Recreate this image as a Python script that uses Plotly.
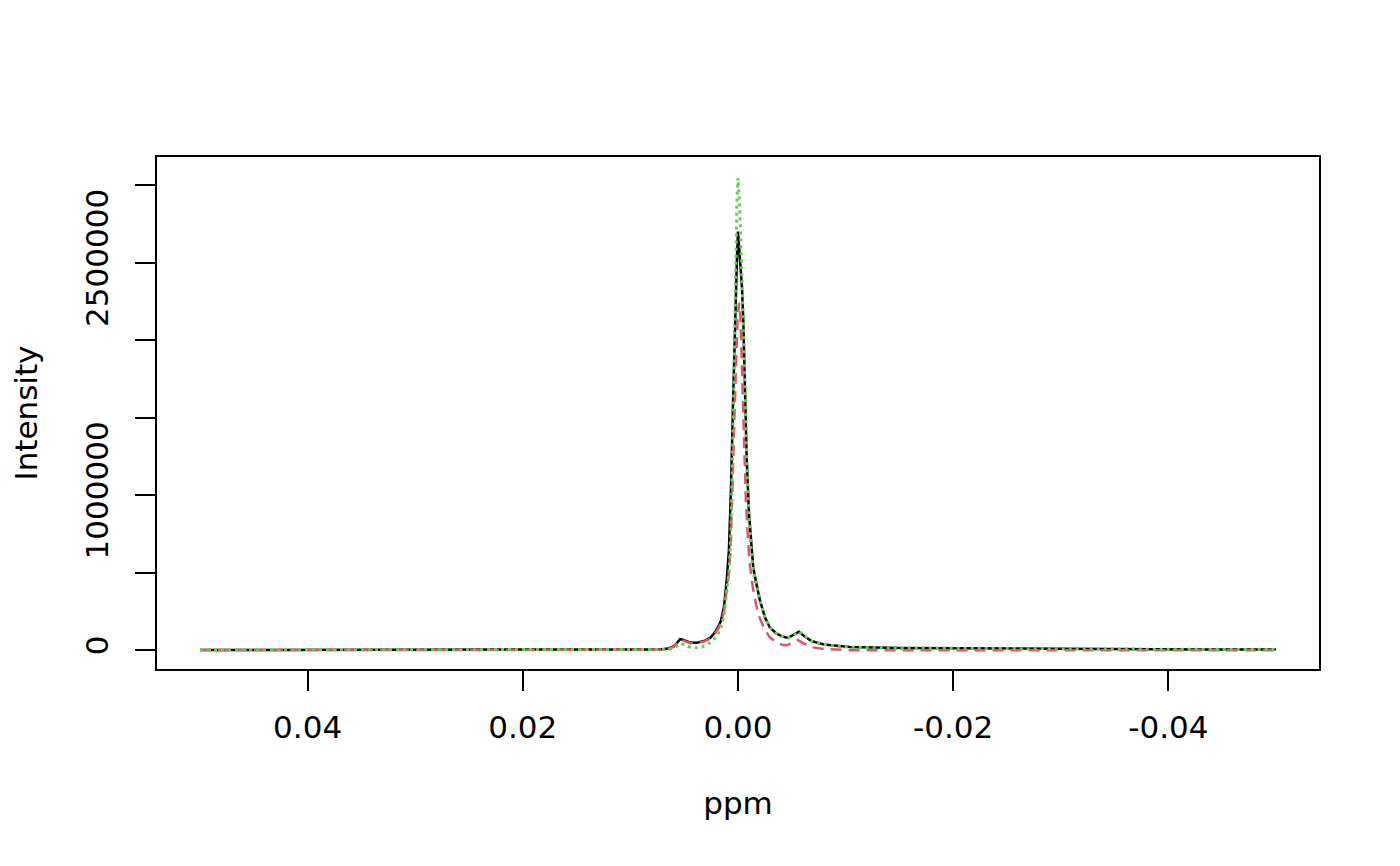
import plotly.graph_objects as go

# ---- data ----
black_ppm = [0.050, 0.0407, 0.0314, 0.0221, 0.0128, 0.0091, 0.00725, 0.00651, 0.00595, 0.00567,
             0.00539, 0.00511, 0.00474, 0.00446, 0.00381, 0.00307, 0.0026, 0.00223, 0.00186, 0.00158,
             0.0013, 0.00105, 0.00084, 0.00065, 0.00046, 0.00028, 0.00009, 0.0, -0.00019, -0.00037,
             -0.00049, -0.00065, -0.00081, -0.00102, -0.00121, -0.00142, -0.00167, -0.00204, -0.00251, -0.00297,
             -0.00353, -0.00409, -0.00465, -0.0052, -0.00567, -0.00613, -0.00688, -0.00799, -0.00911, -0.01041,
             -0.01506, -0.02435, -0.03364, -0.04294, -0.050]
black_int = [0, 1500, 500, 1000, 1500, 2500, 4000, 9000, 25000, 45000,
             70000, 66000, 54000, 48000, 47000, 60000, 78000, 105000, 145000, 190000,
             280000, 450000, 650000, 1050000, 1600000, 2130000, 2550000, 2700000, 2530000, 2340000,
             2130000, 1720000, 1230000, 880000, 680000, 530000, 440000, 320000, 210000, 145000,
             108000, 88000, 78000, 98000, 118000, 90000, 56000, 36000, 26000, 19000,
             13000, 9000, 6000, 4000, 3000]

red_ppm = [0.050, 0.0407, 0.0314, 0.0221, 0.0128, 0.0091, 0.00725, 0.00651, 0.00595, 0.00567,
           0.00539, 0.00511, 0.00474, 0.00446, 0.00381, 0.00307, 0.0026, 0.00223, 0.00186, 0.00158,
           0.0013, 0.00105, 0.00081, 0.00065, 0.00044, 0.00023, 0.00005, -0.00009, -0.00023, -0.00042,
           -0.00059, -0.00074, -0.00088, -0.00105, -0.00137, -0.00167, -0.00198, -0.00242, -0.00291, -0.00353,
           -0.00415, -0.00455, -0.00502, -0.00555, -0.00604, -0.00694, -0.00799, -0.00911, -0.01041, -0.02435,
           -0.03364, -0.050]
red_int = [0, 0, 1000, 0, 0, 1000, 1000, 6000, 22000, 42000,
           66000, 62000, 50000, 44000, 45000, 57000, 74000, 98000, 135000, 175000,
           250000, 370000, 516000, 720000, 1290000, 1750000, 2120000, 2240000, 2150000, 1760000,
           1290000, 950000, 760000, 580000, 408000, 295000, 215000, 140000, 86000, 50000,
           32000, 30000, 45000, 65000, 45000, 17000, 6000, 1000, -1000, -1000,
           -2000, -2000]

green_ppm = [0.050, 0.0407, 0.0314, 0.0221, 0.0128, 0.0091, 0.00725, 0.00651, 0.00595, 0.00567,
             0.0053, 0.00502, 0.00465, 0.00418, 0.00381, 0.00335, 0.00297, 0.0026, 0.00223, 0.00186,
             0.00158, 0.0013, 0.00105, 0.00081, 0.00065, 0.00051, 0.00037, 0.00028, 0.00019, 0.00011,
             0.0, -0.00015, -0.00023, -0.00037, -0.00049, -0.00065, -0.00081, -0.00102, -0.00127, -0.00142,
             -0.00167, -0.00204, -0.00251, -0.00297, -0.00353, -0.00409, -0.00465, -0.0052, -0.00567, -0.00613,
             -0.00688, -0.00799, -0.00911, -0.01041, -0.01506, -0.02435, -0.03364, -0.04294, -0.050]
green_int = [0, 1000, 0, 500, 500, 1000, 2000, 4000, 12000, 25000,
             42000, 35000, 22000, 15000, 15000, 20000, 30000, 48000, 70000, 105000,
             150000, 225000, 360000, 520000, 800000, 1226000, 1750000, 2150000, 2697000, 2880000,
             3045000, 2880000, 2697000, 2420000, 2130000, 1700000, 1226000, 880000, 600000, 516000,
             440000, 320000, 210000, 145000, 108000, 88000, 78000, 95000, 120000, 92000,
             55000, 35000, 25000, 18000, 12000, 8000, 6000, 4000, 3000]

x_ticks = [0.04, 0.02, 0.0, -0.02, -0.04]
x_tick_labels = ["0.04", "0.02", "0.00", "-0.02", "-0.04"]
y_ticks = [0, 500000, 1000000, 1500000, 2000000, 2500000, 3000000]
y_tick_labels = ["0", "", "1000000", "", "", "2500000", ""]

fig = go.Figure()
fig.add_trace(go.Scatter(x=black_ppm, y=black_int, mode="lines",
                         line=dict(color="black", width=2.5)))
fig.add_trace(go.Scatter(x=red_ppm, y=red_int, mode="lines",
                         line=dict(color="#DF536B", width=2.5, dash="11px,7px")))
fig.add_trace(go.Scatter(x=green_ppm, y=green_int, mode="lines",
                         line=dict(color="#61D04F", width=3, dash="3px,4px")))

# page body adds an 8px offset, so the figure is sized to fit inside it
fig.update_layout(
    width=1384, height=850, autosize=False,
    margin=dict(l=149, r=73, t=149, b=189),
    plot_bgcolor="white", paper_bgcolor="white",
    showlegend=False,
    font=dict(family="DejaVu Sans", size=31, color="black"),
)
fig.update_xaxes(
    range=[0.054, -0.054], tickmode="array", tickvals=x_ticks, ticktext=x_tick_labels,
    ticks="outside", ticklen=20, tickwidth=1.5, tickcolor="black",
    ticklabelstandoff=10,
    showline=True, mirror=True, linecolor="black", linewidth=1.5,
    showgrid=False, zeroline=False,
    title=dict(text="ppm", standoff=48, font=dict(size=31)),
)
fig.update_yaxes(
    range=[-122581, 3180645], tickmode="array", tickvals=y_ticks, ticktext=y_tick_labels,
    tickangle=-90, ticklabelstandoff=15,
    ticks="outside", ticklen=20, tickwidth=1.5, tickcolor="black",
    showline=True, mirror=True, linecolor="black", linewidth=1.5,
    showgrid=False, zeroline=False,
    title=dict(text="Intensity", standoff=34, font=dict(size=31)),
)

fig.write_html("out.html")
